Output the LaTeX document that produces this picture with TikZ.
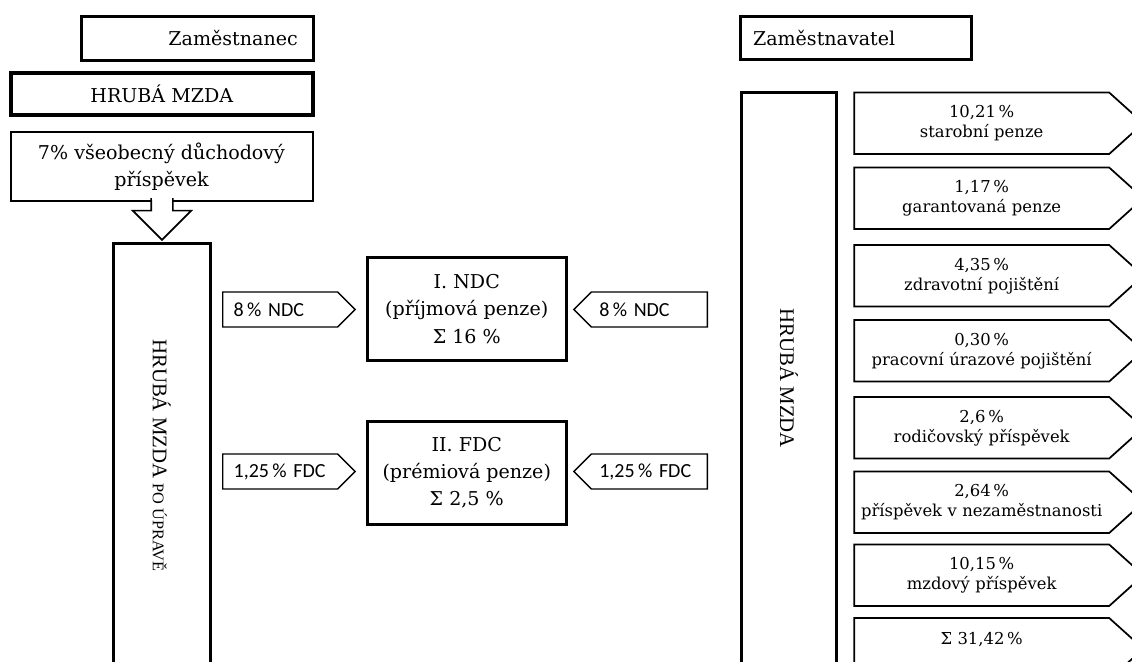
\documentclass[tikz,border=0pt]{standalone}
\usepackage{fontspec}
\setmainfont{DejaVu Serif}
\newfontfamily\numfont{Carlito}
\newfontfamily\rotfont{Liberation Serif}
\usetikzlibrary{shapes.symbols,shapes.arrows}

\newcommand{\bigtext}{\fontsize{14.3pt}{20.5pt}\selectfont}
\newcommand{\smalltext}{\fontsize{12.3pt}{15pt}\selectfont}
\newcommand{\pcttext}{\numfont\fontsize{15pt}{18pt}\selectfont}
\newcommand{\rottext}{\rotfont\fontsize{15.6pt}{18pt}\selectfont}

\tikzset{
    box/.style={draw, rectangle, inner sep=0pt, font=\bigtext},
    larrow/.style={draw, line width=1pt, shape=signal, signal to=east,
        signal pointer angle=90, inner xsep=11*0.75pt, inner ysep=0pt,
        text width=93*0.75pt, align=left, minimum height=35*0.75pt,
        font=\pcttext, anchor=west},
    rarrow/.style={draw, line width=1pt, shape=signal, signal to=west,
        signal pointer angle=90, inner xsep=8*0.75pt, inner ysep=0pt,
        text width=100*0.75pt, align=left, minimum height=35*0.75pt,
        font=\pcttext, anchor=east},
    chevron/.style={draw, line width=1.3pt, shape=signal, signal to=east,
        signal pointer angle=84, inner xsep=5*0.75pt, inner ysep=0pt,
        text width=245*0.75pt, align=center, minimum height=61.5*0.75pt,
        font=\smalltext, anchor=west}
}

\begin{document}
\begin{tikzpicture}[x=0.75pt, y=-0.75pt]
    \clip (0,0) rectangle (1132,661);

    % zamestnanec
    \node[box, line width=2.25pt, minimum width=231.5*0.75pt, minimum height=43.5*0.75pt,
        text width=201*0.75pt, align=right] (employee) at (197.25,38.25) {Zaměstnanec};
    \node[box, line width=3pt, minimum width=302.5*0.75pt, minimum height=42*0.75pt]
        (gross) at (161.75,94) {HRUBÁ MZDA};
    \node[box, line width=1.5pt, minimum width=302*0.75pt, minimum height=69*0.75pt,
        align=center] (pension) at (161.5,166.5) {7\% všeobecný důchodový\\příspěvek};
    \node[single arrow, draw, fill=white, line width=1.2pt, rotate=-90,
        single arrow head extend=18.5*0.75pt, single arrow tip angle=90,
        minimum width=57*0.75pt, minimum height=41*0.75pt, inner xsep=0pt,
        inner ysep=10*0.75pt, anchor=tip] (down) at (162,241) {};
    \draw[white, line width=2.5pt, shorten <=1pt, shorten >=1pt]
        (down.before tail) -- (down.after tail);
    \node[box, line width=2.25pt, rotate=-90, minimum width=423.5*0.75pt,
        minimum height=96.5*0.75pt, font=\rottext] (grossadj) at (161.75,455.25)
        {HRUBÁ MZDA {\fontsize{12.2pt}{14pt}\selectfont PO ÚPRAVĚ}};

    % NDC / FDC
    \node[box, line width=2.25pt, minimum width=199.5*0.75pt, minimum height=102.5*0.75pt,
        align=center] (ndc) at (466.75,308.75) {I. NDC\\(příjmová penze)\\Σ 16 \%};
    \node[box, line width=2.25pt, minimum width=199.5*0.75pt, minimum height=102.5*0.75pt,
        align=center] (fdc) at (466.75,472.75) {II. FDC\\(prémiová penze)\\Σ 2,5 \%};

    \node[larrow] (ndcin) at (222,309.5) {8\,\% NDC};
    \node[larrow] (fdcin) at (222,471.5) {1,25\,\% FDC};
    \node[rarrow] (ndcout) at (708,309.5) {8\,\% NDC};
    \node[rarrow] (fdcout) at (708,471.5) {1,25\,\% FDC};

    % zamestnavatel
    \node[box, line width=2.25pt, minimum width=231.5*0.75pt, minimum height=43*0.75pt,
        text width=205.5*0.75pt, align=left] (employer) at (855.75,38) {Zaměstnavatel};
    \node[box, line width=2.25pt, rotate=-90, minimum width=571.5*0.75pt,
        minimum height=95*0.75pt, font=\rottext] (grossemp) at (789,378.25) {HRUBÁ MZDA};

    \node[chevron] (old) at (853.3,123.25) {10,21\,\%\\starobní penze};
    \node[chevron] (guar) at (853.3,198.25) {1,17\,\%\\garantovaná penze};
    \node[chevron] (health) at (853.3,275.75) {4,35\,\%\\zdravotní pojištění};
    \node[chevron] (injury) at (853.3,350.75) {0,30\,\%\\pracovní úrazové pojištění};
    \node[chevron] (parent) at (853.3,427.75) {2,6\,\%\\rodičovský příspěvek};
    \node[chevron] (unemp) at (853.3,502.25) {2,64\,\%\\příspěvek v nezaměstnanosti};
    \node[chevron] (wage) at (853.3,575.25) {10,15\,\%\\mzdový příspěvek};
    \node[chevron] (total) at (853.3,648.75) {Σ 31,42\,\%\\\phantom{x}};
\end{tikzpicture}
\end{document}
